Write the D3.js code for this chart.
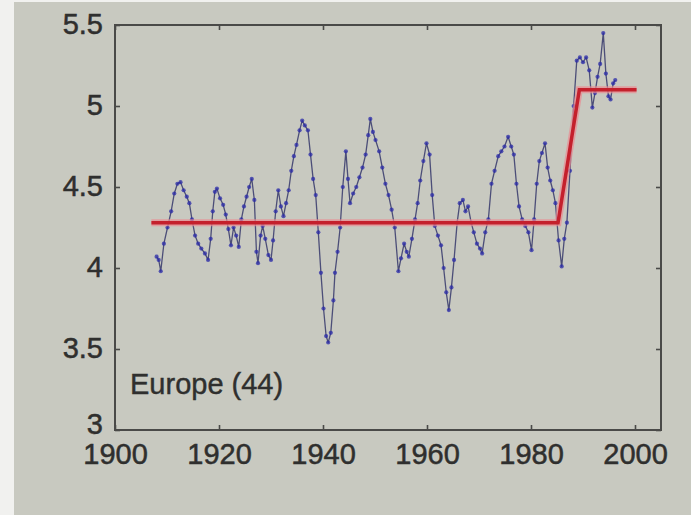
<!DOCTYPE html>
<html>
<head>
<meta charset="utf-8">
<script src="https://cdn.jsdelivr.net/npm/d3@7"></script>
<style>
  html, body { margin: 0; padding: 0; background: #f2f2f0; }
  svg { display: block; }
</style>
</head>
<body>
<svg id="chart" width="691" height="515"></svg>
<script>
// Yearly-smoothed index, Europe (44 stations)
const years = [
  1908.0, 1908.4, 1908.8, 1909.4, 1910.1, 1910.8, 1911.4, 1912.0, 1912.6, 1913.2,
  1913.8, 1914.3, 1914.8, 1915.4, 1916.0, 1916.6, 1917.3, 1917.9, 1918.4, 1918.8,
  1919.2, 1919.6, 1920.2, 1920.8, 1921.3, 1921.8, 1922.3, 1922.8, 1923.3, 1923.8,
  1924.3, 1924.8, 1925.3, 1925.8, 1926.3, 1926.8, 1927.2, 1927.5, 1928.0, 1928.4,
  1928.9, 1929.5, 1930.0, 1930.4, 1930.9, 1931.4, 1931.9, 1932.4, 1932.9, 1933.4,
  1933.9, 1934.4, 1934.9, 1935.5, 1936.0, 1936.5, 1937.1, 1937.6, 1938.1, 1938.6,
  1939.1, 1939.6, 1940.1, 1940.6, 1941.0, 1941.5, 1942.0, 1942.3, 1942.8, 1943.3,
  1943.8, 1944.4, 1944.8, 1945.2, 1945.8, 1946.4, 1947.0, 1947.6, 1948.2, 1948.7,
  1949.1, 1949.6, 1950.1, 1950.8, 1951.4, 1952.0, 1952.6, 1953.2, 1953.8, 1954.5,
  1955.0, 1955.6, 1956.1, 1956.5, 1957.1, 1957.7, 1958.2, 1958.7, 1959.3, 1959.9,
  1960.5, 1961.0, 1961.5, 1962.1, 1962.7, 1963.2, 1963.7, 1964.2, 1964.7, 1965.2,
  1965.8, 1966.3, 1966.9, 1967.4, 1967.9, 1968.5, 1969.0, 1969.6, 1970.2, 1970.6,
  1971.2, 1971.8, 1972.4, 1973.0, 1973.7, 1974.3, 1974.9, 1975.6, 1976.2, 1976.7,
  1977.2, 1977.7, 1978.3, 1978.9, 1979.5, 1980.1, 1980.6, 1981.1, 1981.6, 1982.1,
  1982.7, 1983.2, 1983.7, 1984.2, 1984.7, 1985.3, 1985.9, 1986.4, 1986.9, 1987.5,
  1988.2, 1988.8, 1989.4, 1990.0, 1990.6, 1991.2, 1991.8, 1992.3, 1992.8, 1993.3,
  1993.9, 1994.4, 1994.9, 1995.3, 1995.8, 1996.2
];
const values = [
  4.07, 4.05, 3.98, 4.15, 4.25, 4.35, 4.46, 4.52, 4.53, 4.48,
  4.44, 4.40, 4.30, 4.20, 4.15, 4.12, 4.09, 4.05, 4.18, 4.35,
  4.47, 4.49, 4.43, 4.39, 4.33, 4.24, 4.14, 4.25, 4.20, 4.13,
  4.30, 4.38, 4.44, 4.50, 4.55, 4.42, 4.10, 4.03, 4.20, 4.26,
  4.18, 4.08, 4.05, 4.17, 4.35, 4.48, 4.38, 4.32, 4.40, 4.48,
  4.60, 4.69, 4.76, 4.85, 4.91, 4.88, 4.85, 4.70, 4.55, 4.45,
  4.22, 3.97, 3.75, 3.58, 3.54, 3.60, 3.80, 3.97, 4.10, 4.25,
  4.50, 4.72, 4.55, 4.40, 4.46, 4.50, 4.56, 4.62, 4.70, 4.82,
  4.92, 4.84, 4.79, 4.72, 4.62, 4.52, 4.45, 4.36, 4.25, 3.98,
  4.06, 4.15, 4.10, 4.07, 4.18, 4.30, 4.40, 4.54, 4.66, 4.77,
  4.70, 4.45, 4.26, 4.20, 4.14, 4.00, 3.85, 3.74, 3.88, 4.05,
  4.28, 4.40, 4.42, 4.35, 4.38, 4.28, 4.22, 4.15, 4.12, 4.09,
  4.22, 4.30, 4.52, 4.60, 4.69, 4.72, 4.75, 4.81, 4.75, 4.70,
  4.52, 4.38, 4.30, 4.26, 4.22, 4.11, 4.30, 4.52, 4.66, 4.71,
  4.77, 4.62, 4.54, 4.48, 4.40, 4.17, 4.01, 4.18, 4.28, 4.60,
  5.00, 5.28, 5.30, 5.27, 5.30, 5.22, 4.99, 5.08, 5.18, 5.26,
  5.45, 5.20, 5.06, 5.04, 5.14, 5.16
];

// Fitted step: constant level, shift, new constant level
const stepYears = [1907.0, 1985.2, 1989.3, 2000.3];
const stepValues = [4.28, 4.28, 5.10, 5.10];

const xTicks = [1900, 1920, 1940, 1960, 1980, 2000];
const yTicks = [3, 3.5, 4, 4.5, 5, 5.5];
const panelLabel = "Europe (44)";

const svg = d3.select("#chart");
const W = 691, H = 515;

// backdrop
svg.append("rect").attr("x", 0).attr("y", 0).attr("width", W).attr("height", H).attr("fill", "#f1f1ef");
svg.append("rect").attr("x", 14).attr("y", 2).attr("width", W - 14).attr("height", H - 2).attr("fill", "#c8c9c0");

const x = d3.scaleLinear().domain([1900, 2005]).range([115, 661]);
const y = d3.scaleLinear().domain([3, 5.5]).range([430, 25]);

const fontFamily = "'Liberation Sans', Arial, Helvetica, sans-serif";
const axisColor = "#4a4a48";
const textColor = "#2f2f2e";

function styleAxis(g) {
  g.select(".domain").remove();
  g.selectAll(".tick line").attr("stroke", axisColor).attr("stroke-width", 1.6);
  g.selectAll(".tick text")
    .attr("fill", textColor)
    .attr("stroke", textColor)
    .attr("stroke-width", 0.5)
    .style("font-family", fontFamily)
    .style("font-size", "29px");
}

// bottom axis with labels
svg.append("g")
  .attr("transform", `translate(0,${y(3)})`)
  .call(d3.axisBottom(x).tickValues(xTicks).tickFormat(d3.format("d")).tickSize(-5).tickPadding(13))
  .call(styleAxis);

// top axis, ticks only
svg.append("g")
  .attr("transform", `translate(0,${y(5.5)})`)
  .call(d3.axisTop(x).tickValues(xTicks).tickFormat("").tickSize(-5))
  .call(styleAxis);

// left axis with labels; the lowest label sits a little higher to clear the year labels
svg.append("g")
  .attr("transform", `translate(${x(1900)},0)`)
  .call(d3.axisLeft(y).tickValues(yTicks).tickFormat(d => String(d)).tickSize(-5).tickPadding(12))
  .call(styleAxis)
  .selectAll(".tick text")
  .attr("dy", d => d === 3 ? "0.12em" : "0.3em");

// right axis, ticks only
svg.append("g")
  .attr("transform", `translate(${x(2005)},0)`)
  .call(d3.axisRight(y).tickValues(yTicks).tickFormat("").tickSize(-5))
  .call(styleAxis);

// frame
svg.append("rect")
  .attr("x", x(1900)).attr("y", y(5.5))
  .attr("width", x(2005) - x(1900)).attr("height", y(3) - y(5.5))
  .attr("fill", "none").attr("stroke", axisColor).attr("stroke-width", 2);

// data series
const series = years.map((yr, i) => ({ yr, v: values[i] }));
const line = d3.line().x(d => x(d.yr)).y(d => y(d.v));

svg.append("path")
  .datum(series)
  .attr("d", line)
  .attr("fill", "none")
  .attr("stroke", "#4c4e78")
  .attr("stroke-width", 1.3)
  .attr("stroke-linejoin", "round");

svg.append("g")
  .selectAll("circle")
  .data(series)
  .join("circle")
  .attr("cx", d => x(d.yr))
  .attr("cy", d => y(d.v))
  .attr("r", 2.1)
  .attr("fill", "#2a2aa8")
  .attr("fill-opacity", 0.75);

// step fit
const step = stepYears.map((yr, i) => ({ yr, v: stepValues[i] }));
svg.append("path")
  .datum(step)
  .attr("d", line)
  .attr("fill", "none")
  .attr("stroke", "#ea8a92")
  .attr("stroke-width", 7)
  .attr("stroke-opacity", 0.7)
  .attr("stroke-linejoin", "miter");
svg.append("path")
  .datum(step)
  .attr("d", line)
  .attr("fill", "none")
  .attr("stroke", "#c4202c")
  .attr("stroke-width", 3.5)
  .attr("stroke-linejoin", "miter");

// panel label
svg.append("text")
  .attr("x", 130)
  .attr("y", 394)
  .attr("fill", textColor)
  .attr("stroke", textColor)
  .attr("stroke-width", 0.4)
  .style("font-family", fontFamily)
  .style("font-size", "29px")
  .text(panelLabel);
</script>
</body>
</html>
